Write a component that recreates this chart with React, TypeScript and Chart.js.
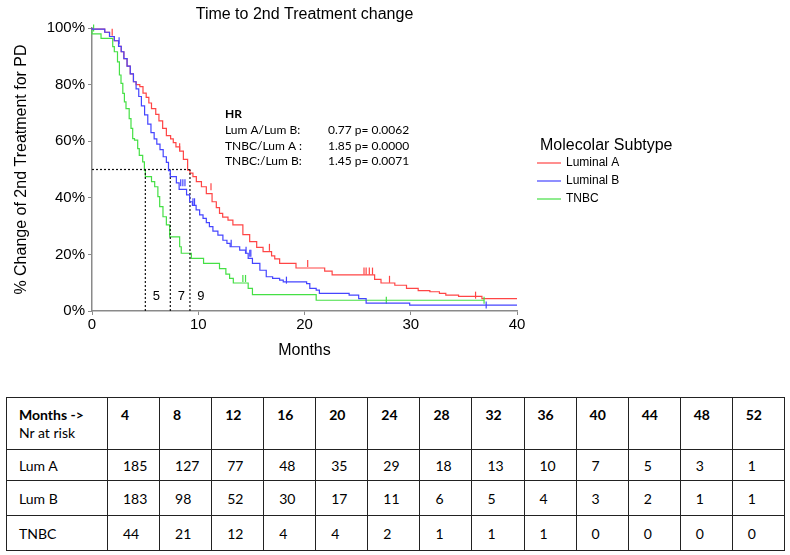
import React, { useEffect, useRef } from 'react';
import { Chart, registerables } from 'chart.js';

Chart.register(...registerables);

// ---------- data ----------
const chartTitle = 'Time to 2nd Treatment change';
const xAxisTitle = 'Months';
const yAxisTitle = '% Change of 2nd Treatment for PD';
const legendTitle = 'Molecolar Subtype';

const seriesNames = ['Luminal A', 'Luminal B', 'TNBC'];
const seriesColors = ['#ff4545', '#4545ff', '#45e045'];
const seriesOrder = [1, 0, 1];

const lumAMonths = [0, 1.2, 1.65, 2.1, 2.5, 2.75, 3.0, 3.3, 3.6, 3.9, 4.15, 4.5, 4.8, 5.1, 5.35, 5.6, 6.0, 6.3, 6.65, 7.0, 7.4, 7.65, 7.9, 8.25, 8.6, 9.0, 9.22, 9.5, 9.82, 10.3, 10.76, 11.3, 11.7, 12.0, 12.3, 12.8, 13.26, 14.2, 14.84, 15.5, 16.1, 16.9, 17.2, 17.66, 19.2, 21.9, 22.6, 26.6, 27.2, 28.5, 29.6, 30.7, 31.8, 32.7, 33.3, 34.5, 36.7, 37.8, 40];
const lumASurv = [100, 99.6, 98.5, 97.0, 95.5, 93.5, 91.6, 89.2, 86.5, 83.8, 81.0, 80.0, 79.3, 77.0, 75.5, 73.5, 71.5, 69.5, 67.2, 64.5, 62.0, 60.8, 59.5, 58.0, 56.5, 53.6, 49.8, 48.7, 47.5, 45.7, 43.9, 41.5, 38.6, 36.5, 34.5, 33.2, 32.1, 30.4, 27.0, 24.5, 22.5, 21.0, 19.5, 18.4, 16.8, 15.2, 14.1, 12.8, 11.2, 9.9, 9.1, 8.0, 7.2, 6.8, 6.2, 5.6, 5.2, 4.4, 4.4];
const lumACensorMonths = [1.9, 8.25, 11.2, 16.7, 20.3, 25.6, 25.8, 26.1, 26.4, 28.0, 36.1];

const lumBMonths = [0, 1.2, 1.65, 2.1, 2.5, 2.75, 3.0, 3.3, 3.6, 3.9, 4.15, 4.4, 4.65, 4.95, 5.25, 5.55, 5.85, 6.1, 6.4, 6.7, 7.0, 7.2, 7.37, 7.94, 8.2, 8.9, 9.19, 9.45, 9.8, 10.13, 10.45, 10.76, 11.05, 11.38, 11.85, 12.32, 12.7, 13.0, 13.9, 14.45, 14.7, 15.1, 15.8, 16.4, 17.0, 17.66, 18.0, 20.2, 20.5, 21.1, 21.4, 24.2, 25.1, 25.8, 29.9, 32.3, 40];
const lumBSurv = [100, 99.6, 98.5, 97.0, 95.5, 93.5, 91.6, 89.2, 86.5, 83.8, 81.0, 78.5, 75.8, 72.5, 69.3, 66.0, 63.0, 60.8, 59.0, 57.0, 54.5, 52.5, 49.6, 47.5, 45.3, 43.0, 41.0, 38.6, 37.3, 35.7, 34.0, 32.7, 31.2, 29.8, 28.2, 26.8, 25.0, 23.9, 22.7, 21.5, 20.4, 18.6, 16.8, 14.4, 12.1, 11.5, 10.9, 10.3, 9.7, 8.0, 7.4, 6.2, 5.6, 4.4, 2.8, 2.1, 2.1];
const lumBCensorMonths = [2.55, 8.35, 8.55, 8.75, 9.5, 9.65, 13.1, 14.5, 14.85, 14.95, 18.3, 37.1];

const tnbcMonths = [0, 0.85, 1.95, 2.1, 2.4, 2.58, 2.73, 2.9, 3.05, 3.2, 3.5, 3.67, 3.83, 4.0, 4.3, 4.45, 4.77, 4.93, 5.02, 5.6, 5.9, 6.2, 6.37, 6.68, 7.0, 7.31, 8.25, 8.4, 9.35, 10.5, 12.0, 12.6, 12.95, 13.3, 14.7, 15.1, 21.1, 23.1, 36.9];
const tnbcSurv = [100, 97.9, 96.3, 93.4, 91.6, 88.0, 83.4, 80.4, 76.9, 73.9, 71.5, 68.0, 64.5, 60.9, 60.4, 57.4, 55.0, 52.7, 49.7, 47.5, 45.7, 43.9, 40.4, 36.9, 33.3, 30.4, 26.2, 22.7, 20.4, 18.6, 16.8, 15.0, 13.0, 11.5, 9.9, 8.0, 5.8, 3.8, 3.8];
const tnbcCensorMonths = [0.15, 14.2, 14.45, 27.7, 36.9];

const medianLevel = 50;
const medianMonths = [5.02, 7.37, 9.22];
const medianLabels = ['5', '7', '9'];

const hrTitle = 'HR';
const hrLabels = ['Lum A/Lum B:', 'TNBC/Lum A :', 'TNBC:/Lum B:'];
const hrValues = ['0.77 p= 0.0062', '1.85 p= 0.0000', '1.45 p= 0.0071'];

const riskHeader = 'Months ->';
const riskSubHeader = 'Nr at risk';
const riskMonths = ['4', '8', '12', '16', '20', '24', '28', '32', '36', '40', '44', '48', '52'];
const riskGroups = ['Lum A', 'Lum B', 'TNBC'];
const riskLumA = [185, 127, 77, 48, 35, 29, 18, 13, 10, 7, 5, 3, 1];
const riskLumB = [183, 98, 52, 30, 17, 11, 6, 5, 4, 3, 2, 1, 1];
const riskTNBC = [44, 21, 12, 4, 4, 2, 1, 1, 1, 0, 0, 0, 0];

// ---------- helpers ----------
function stepValue(ts: number[], ss: number[], t: number): number {
  let v = ss[0];
  for (let i = 0; i < ts.length; i++) {
    if (ts[i] <= t) v = ss[i];
    else break;
  }
  return v;
}

const SANS = '"Liberation Sans", Arial, sans-serif';
const CAL = 'Lato, "Open Sans", sans-serif';

const overlayPlugin = {
  id: 'overlay',
  afterDraw(chart: any) {
    const { ctx, chartArea } = chart;
    const xs = chart.scales.x;
    const ys = chart.scales.y;
    ctx.save();
    // title
    ctx.fillStyle = '#000';
    ctx.font = `16px ${SANS}`;
    ctx.textAlign = 'center';
    ctx.textBaseline = 'alphabetic';
    ctx.fillText(chartTitle, (chartArea.left + chartArea.right) / 2, 19);

    // median labels
    ctx.font = `13px ${SANS}`;
    ctx.textBaseline = 'middle';
    medianMonths.forEach((m, i) => {
      ctx.fillText(medianLabels[i], xs.getPixelForValue(m) + 11, ys.getPixelForValue(5.2));
    });

    // HR block
    ctx.textAlign = 'left';
    ctx.font = `bold 12px ${CAL}`;
    ctx.fillText(hrTitle, 225, 114);
    ctx.font = `12px ${CAL}`;
    hrLabels.forEach((l, i) => {
      const y = 130 + i * 15.8;
      ctx.fillText(l, 225, y);
      ctx.fillText(hrValues[i], 328, y);
    });

    // legend
    ctx.font = `16px ${SANS}`;
    ctx.textBaseline = 'alphabetic';
    ctx.fillText(legendTitle, 540, 150);
    ctx.font = `12px ${SANS}`;
    ctx.textBaseline = 'middle';
    seriesNames.forEach((n, i) => {
      const y = 163 + i * 18;
      ctx.strokeStyle = seriesColors[i];
      ctx.lineWidth = 1.2;
      ctx.beginPath();
      ctx.moveTo(537, y);
      ctx.lineTo(561, y);
      ctx.stroke();
      ctx.fillStyle = '#000';
      ctx.fillText(n, 566, y);
    });
    ctx.restore();
  },
};

export default function App() {
  const ref = useRef<HTMLCanvasElement | null>(null);

  useEffect(() => {
    if (!ref.current) return;
    const curves = [
      { months: lumAMonths, surv: lumASurv, censor: lumACensorMonths },
      { months: lumBMonths, surv: lumBSurv, censor: lumBCensorMonths },
      { months: tnbcMonths, surv: tnbcSurv, censor: tnbcCensorMonths },
    ];
    const datasets: any[] = [];
    curves.forEach((c, i) => {
      datasets.push({
        label: seriesNames[i],
        data: c.months.map((m, j) => ({ x: m, y: c.surv[j] })),
        borderColor: seriesColors[i],
        borderWidth: 1.2,
        pointRadius: 0,
        stepped: 'after',
        fill: false,
        clip: 2,
        order: seriesOrder[i],
      });
      datasets.push({
        label: seriesNames[i] + ' censored',
        data: c.censor.map((m) => ({ x: m, y: stepValue(c.months, c.surv, m) })),
        showLine: false,
        pointStyle: 'line',
        pointRadius: 3.5,
        pointRotation: 90,
        pointBorderColor: seriesColors[i],
        borderColor: seriesColors[i],
        pointBorderWidth: 1.2,
        clip: false,
        order: 0,
      });
    });
    const guide = {
      borderColor: '#111',
      borderWidth: 1.2,
      borderDash: [2, 2],
      pointRadius: 0,
      fill: false,
      order: 0,
    };
    datasets.push({
      ...guide,
      label: 'median',
      data: [
        { x: 0, y: medianLevel },
        { x: Math.max(...medianMonths), y: medianLevel },
      ],
    });
    medianMonths.forEach((m, i) => {
      datasets.push({
        ...guide,
        label: 'median ' + medianLabels[i],
        data: [
          { x: m, y: 0 },
          { x: m, y: medianLevel },
        ],
      });
    });

    const chart = new Chart(ref.current, {
      type: 'line',
      data: { datasets },
      plugins: [overlayPlugin],
      options: {
        animation: false,
        responsive: false,
        events: [],
        layout: { padding: { left: 0, right: 273, top: 28, bottom: 0 } },
        plugins: { legend: { display: false }, tooltip: { enabled: false }, title: { display: false } },
        scales: {
          x: {
            type: 'linear',
            min: 0,
            max: 40,
            ticks: { stepSize: 10, color: '#000', font: { size: 15, family: SANS }, padding: 1, maxRotation: 0 },
            grid: { display: true, drawOnChartArea: false, drawTicks: true, tickLength: 4, color: '#8a8a8a' },
            border: { display: true, color: '#8a8a8a', width: 1.5 },
            title: { display: true, text: xAxisTitle, color: '#000', font: { size: 16, family: SANS }, padding: { top: 0, bottom: 10 } },
            afterFit: (s: any) => {
              s.height = 59;
            },
          },
          y: {
            type: 'linear',
            min: 0,
            max: 100,
            ticks: {
              stepSize: 20,
              color: '#000',
              font: { size: 15, family: SANS },
              padding: 3,
              callback: (v: any) => v + '%',
            },
            grid: { display: true, drawOnChartArea: false, drawTicks: true, tickLength: 4, color: '#8a8a8a' },
            border: { display: true, color: '#8a8a8a', width: 1.5 },
            title: { display: true, text: yAxisTitle, color: '#000', font: { size: 16, family: SANS }, padding: { top: 12, bottom: 0 } },
            afterFit: (s: any) => {
              s.width = 92;
            },
          },
        },
      } as any,
    });
    return () => chart.destroy();
  }, []);

  const rows = [riskLumA, riskLumB, riskTNBC];
  const rowHeights = [31, 35, 35];
  const border = '1px solid #222';

  return (
    <div style={{ position: 'absolute', left: 0, top: 0, width: 790, height: 555, background: '#fff' }}>
      <canvas ref={ref} width={790} height={370} style={{ position: 'absolute', left: 0, top: 0, display: 'block' }} />
      <table
        style={{
          position: 'absolute',
          left: 6,
          top: 397,
          width: 779,
          borderCollapse: 'collapse',
          tableLayout: 'fixed',
          fontFamily: CAL,
          fontSize: 14,
          color: '#000',
        }}
      >
        <colgroup>
          <col style={{ width: 101 }} />
          {riskMonths.map((m) => (
            <col key={m} />
          ))}
        </colgroup>
        <tbody>
          <tr style={{ height: 52 }}>
            <td style={{ border, verticalAlign: 'top', padding: '8px 0 0 12px', lineHeight: '18px' }}>
              <div style={{ fontWeight: 'bold' }}>{riskHeader}</div>
              <div>{riskSubHeader}</div>
            </td>
            {riskMonths.map((m) => (
              <td key={m} style={{ border, verticalAlign: 'top', padding: '8px 0 0 13px', lineHeight: '18px', fontWeight: 'bold' }}>
                {m}
              </td>
            ))}
          </tr>
          {rows.map((r, i) => (
            <tr key={riskGroups[i]} style={{ height: rowHeights[i] }}>
              <td style={{ border, verticalAlign: 'middle', padding: '0 0 0 12px' }}>{riskGroups[i]}</td>
              {r.map((v, j) => (
                <td key={j} style={{ border, verticalAlign: 'middle', padding: '0 0 0 15px' }}>
                  {v}
                </td>
              ))}
            </tr>
          ))}
        </tbody>
      </table>
    </div>
  );
}
